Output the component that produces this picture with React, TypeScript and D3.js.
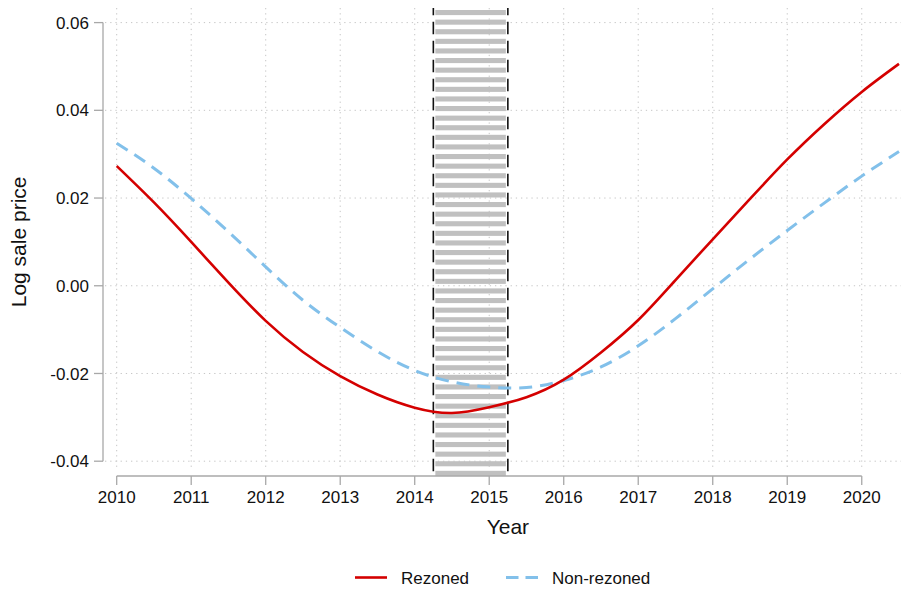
import * as d3 from 'd3'

const YEARS = [
  2010, 2010.5, 2011, 2011.5, 2012, 2012.5, 2013, 2013.5, 2014, 2014.5, 2015,
  2015.5, 2016, 2016.5, 2017, 2017.5, 2018, 2018.5, 2019, 2019.5, 2020, 2020.5,
]

const REZONED = [
  0.0273, 0.019, 0.01, 0.0007, -0.008, -0.0151, -0.0206, -0.0248, -0.0278,
  -0.029, -0.0277, -0.0254, -0.0214, -0.0152, -0.0078, 0.0013, 0.0106, 0.0198,
  0.0288, 0.0369, 0.0442, 0.0506,
]

const NON_REZONED = [
  0.0325, 0.0268, 0.0199, 0.0123, 0.0043, -0.0033, -0.0095, -0.015, -0.0193,
  -0.0219, -0.0231, -0.0232, -0.0216, -0.0185, -0.0137, -0.0075, -0.0007,
  0.0061, 0.0126, 0.0189, 0.025, 0.0306,
]

const X_TICKS = [2010, 2011, 2012, 2013, 2014, 2015, 2016, 2017, 2018, 2019, 2020]
const Y_TICKS = [-0.04, -0.02, 0, 0.02, 0.04, 0.06]
const BAND = [2014.25, 2015.25]

const W = 904
const H = 590
const FONT = '"Liberation Sans", Arial, Helvetica, sans-serif'
const RED = '#d40000'
const BLUE = '#82c0ea'
const AXIS = '#a8a8a8'
const GRID = '#c6c6c6'

const PLOT = { left: 103, right: 901, top: 8, bottom: 470 }

function App() {
  const x = d3.scaleLinear().domain([2010, 2020.5]).range([116.7, 899])
  const y = d3.scaleLinear().domain([-0.04, 0.06]).range([461.2, 22.6])

  const line = d3
    .line<number>()
    .x((_, i) => x(YEARS[i]))
    .y((d) => y(d))
    .curve(d3.curveNatural)

  const bx0 = x(BAND[0])
  const bx1 = x(BAND[1])
  const stripes: number[] = []
  for (let s = 10; s < 476; s += 9.6) stripes.push(s)

  const yTop = y(Y_TICKS[Y_TICKS.length - 1])
  const yBot = y(Y_TICKS[0])
  const axisY = 476

  return (
    <svg
      width={W}
      height={H}
      style={{ position: 'absolute', left: 0, top: 0, display: 'block', background: '#fff' }}
      fontFamily={FONT}
    >
      {/* grid */}
      {Y_TICKS.map((t) => (
        <line
          key={'gy' + t}
          x1={PLOT.left + 2}
          x2={PLOT.right}
          y1={y(t)}
          y2={y(t)}
          stroke={GRID}
          strokeWidth={1}
          strokeDasharray="1.3 3.9"
        />
      ))}
      {X_TICKS.map((t) => (
        <line
          key={'gx' + t}
          x1={x(t)}
          x2={x(t)}
          y1={PLOT.top}
          y2={PLOT.bottom}
          stroke={GRID}
          strokeWidth={1}
          strokeDasharray="1.3 3.9"
        />
      ))}

      {/* hatched band */}
      {stripes.map((s) => (
        <rect
          key={'st' + s}
          x={bx0 + 2}
          width={bx1 - bx0 - 4}
          y={s}
          height={Math.min(5.1, 476 - s)}
          fill="#c0c0c0"
        />
      ))}
      {[bx0, bx1].map((bx) => (
        <line
          key={'bl' + bx}
          x1={bx}
          x2={bx}
          y1={PLOT.top}
          y2={axisY}
          stroke="#111"
          strokeWidth={1.6}
          strokeDasharray="12.5 6.5"
          strokeDashoffset={5.3}
        />
      ))}

      {/* series */}
      <path d={line(NON_REZONED) ?? ''} fill="none" stroke={BLUE} strokeWidth={3} strokeDasharray="13 8" />
      <path d={line(REZONED) ?? ''} fill="none" stroke={RED} strokeWidth={2.6} />

      {/* y axis */}
      <line x1={PLOT.left} x2={PLOT.left} y1={yTop} y2={yBot} stroke={AXIS} strokeWidth={1.3} />
      {Y_TICKS.map((t) => (
        <g key={'yt' + t}>
          <line x1={PLOT.left - 9} x2={PLOT.left} y1={y(t)} y2={y(t)} stroke={AXIS} strokeWidth={1.3} />
          <text x={89} y={y(t)} dy="0.36em" textAnchor="end" fontSize={17} fill="#111">
            {d3.format('.2f')(t).replace('−', '-')}
          </text>
        </g>
      ))}
      <text
        transform={`translate(26, ${(yTop + yBot) / 2}) rotate(-90)`}
        textAnchor="middle"
        fontSize={21}
        fill="#111"
      >
        Log sale price
      </text>

      {/* x axis */}
      <line x1={x(2010)} x2={x(2020)} y1={axisY} y2={axisY} stroke={AXIS} strokeWidth={1.3} />
      {X_TICKS.map((t) => (
        <g key={'xt' + t}>
          <line x1={x(t)} x2={x(t)} y1={axisY} y2={axisY + 9} stroke={AXIS} strokeWidth={1.3} />
          <text x={x(t)} y={503} textAnchor="middle" fontSize={17} fill="#111">
            {t}
          </text>
        </g>
      ))}
      <text x={(x(2010) + x(2020.5)) / 2} y={534} textAnchor="middle" fontSize={21} fill="#111">
        Year
      </text>

      {/* legend */}
      <line x1={355} x2={387} y1={577.5} y2={577.5} stroke={RED} strokeWidth={2.6} />
      <text x={401} y={583.5} fontSize={17} fill="#111">
        Rezoned
      </text>
      <line x1={506} x2={539} y1={577.5} y2={577.5} stroke={BLUE} strokeWidth={3} strokeDasharray="12.5 7" />
      <text x={552} y={583.5} fontSize={17} fill="#111">
        Non-rezoned
      </text>
    </svg>
  )
}

export default App
